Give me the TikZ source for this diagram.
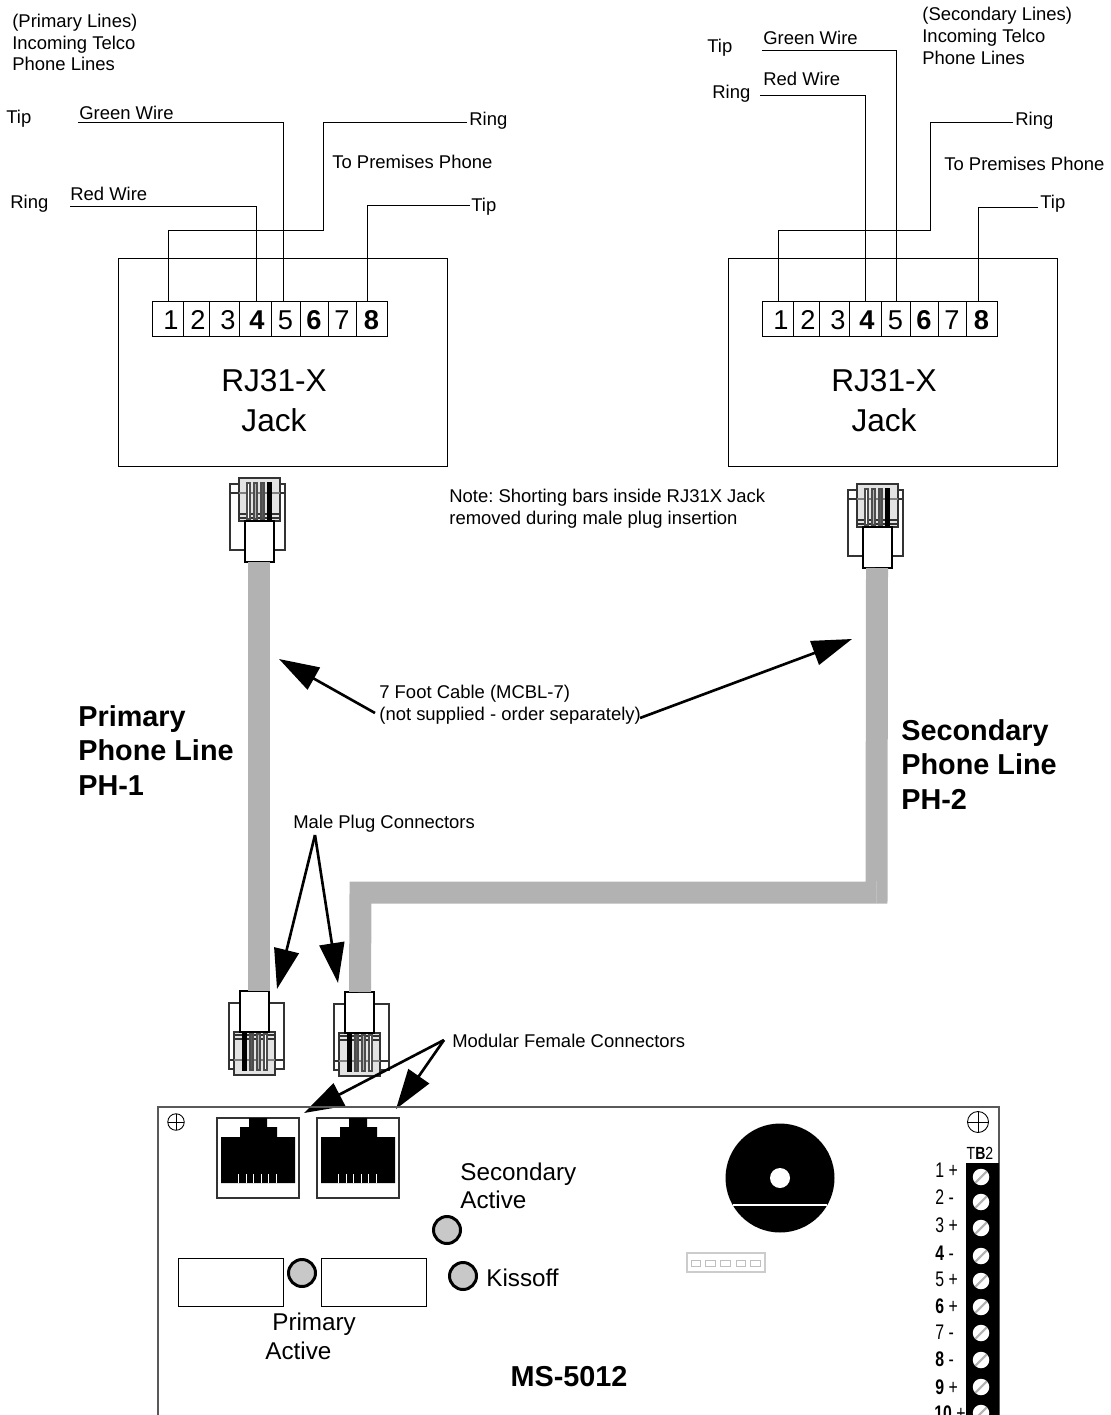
\documentclass[tikz,border=0pt]{standalone}
\usepackage{fontspec}
\setmainfont{Liberation Sans}
\usetikzlibrary{arrows.meta}
\definecolor{cablegray}{HTML}{B2B2B2}
\definecolor{ledgray}{HTML}{C8C8C8}
\definecolor{headgray}{HTML}{E3E3E3}
\newcommand{\smallfont}{\fontsize{10.5}{12.3}\selectfont}
\newcommand{\boardfont}{\fontsize{13.8}{15.6}\selectfont}
\newcommand{\boldfont}{\fontsize{16.4}{19.6}\selectfont\bfseries}
\tikzset{
  lbl/.style={anchor=west,inner sep=0pt,font=\smallfont,text height=9.9pt,text depth=2.2pt},
  multilbl/.style={anchor=west,inner sep=0pt,font=\smallfont,align=left},
  boardlbl/.style={anchor=west,inner sep=0pt,font=\boardfont,align=left},
  biglbl/.style={anchor=west,inner sep=0pt,font=\boldfont,align=left},
  wire/.style={draw=black,line width=.5pt},
  cable/.style={draw=cablegray,line width=.44cm,line join=miter},
  bigarrow/.style={draw=black,line width=1.5pt,-{Triangle[length=.8cm,width=.5cm]}},
  cell/.style={shape=rectangle,draw,line width=.5pt,minimum height=.7cm,inner sep=0pt,text height=12.1pt,text depth=0pt,font=\fontsize{15.5}{15.5}\selectfont},
  jackbox/.style={shape=rectangle,draw,line width=.5pt,minimum width=6.58cm,minimum height=4.16cm},
  bigtext/.style={inner sep=0pt,font=\fontsize{18}{22}\selectfont},
  led/.style={shape=circle,draw=black,line width=1.7pt,fill=ledgray,inner sep=0pt,minimum size=.54cm},
  relay/.style={shape=rectangle,draw,line width=.5pt,minimum width=2.1cm,minimum height=.96cm},
  screw/.style={shape=circle,fill=white,inner sep=0pt,minimum size=.33cm,
    path picture={\draw [gray!60,line width=1.2pt] (path picture bounding box.south west) -- (path picture bounding box.north east);}},
  mounthole/.style={shape=circle,draw,line width=.5pt,inner sep=0pt,
    path picture={\draw [line width=.5pt] (path picture bounding box.north) -- (path picture bounding box.south)
      (path picture bounding box.west) -- (path picture bounding box.east);}},
  termlbl/.style={anchor=west,inner sep=0pt,font=\fontsize{12}{12}\selectfont},
  plugline/.style={draw=black!80,line width=.6pt},
  rjplug/.pic={
    \draw [plugline,fill=white] (-29,6) rectangle (26,72);
    \draw [plugline,fill=headgray] (-20,0) rectangle (21,43);
    \draw [plugline] (-29,15) -- (-20,15) (21,15) -- (26,15);
    \draw [draw=gray,line width=.6pt] (-20,15) -- (21,15);
    \draw [plugline] (-20,36) -- (21,36) (-20,40) -- (21,40);
    \draw [draw=black!70,line width=.6pt,fill=white] (-12,5) rectangle (-9,41);
    \draw [draw=black!70,line width=.6pt,fill=gray!60] (-5,5) rectangle (-2,41);
    \draw [draw=black!70,line width=.6pt,fill=gray!70!black] (2,5) rectangle (5,41);
    \draw [draw=black,line width=.6pt,fill=black] (9,5) rectangle (12,41);
    \draw [draw=black,line width=.7pt,fill=white] (-14,43) rectangle (15,84);
    \coordinate (-neck) at (0,84);
  },
  rjsocket/.pic={
    \draw [plugline,fill=white] (0,0) rectangle (82,80);
    \fill [black] (4,65) -- (4,19) -- (23,19) -- (23,9) -- (32,9) -- (32,0) -- (50,0) -- (50,9) -- (60,9) -- (60,19) -- (78,19) -- (78,65) -- cycle;
    \draw [white,line width=.5pt] (21,56) -- (21,65) (29,56) -- (29,65) (36,56) -- (36,65) (44,56) -- (44,65) (51,56) -- (51,65) (59,56) -- (59,65);
  }
}
\begin{document}
\frenchspacing
\begin{tikzpicture}[x=.02cm,y=-.02cm]
\useasboundingbox (0,0) rectangle (1110,1415);
\clip (0,0) rectangle (1110,1415);

% left jack
\path (282.5,362) node (jackpri) [jackbox] {};
\path (274,381) node (rjpri) [bigtext] {RJ31-X};
\path (274,420) node (jkpri) [bigtext] {Jack};
\path (168,318.5) node (pa1) [cell,minimum width=.61cm] {\kern3.4pt 1};
\path (196,318.5) node (pa2) [cell,minimum width=.52cm] {\kern2.3pt 2};
\path (224,318.5) node (pa3) [cell,minimum width=.6cm] {\kern4.5pt 3};
\path (255,318.5) node (pa4) [cell,minimum width=.64cm] {\kern2.3pt\textbf{4}};
\path (285.5,318.5) node (pa5) [cell,minimum width=.58cm] {5};
\path (314,318.5) node (pa6) [cell,minimum width=.56cm] {\textbf{6}};
\path (342,318.5) node (pa7) [cell,minimum width=.56cm] {7};
\path (371.5,318.5) node (pa8) [cell,minimum width=.62cm] {\textbf{8}};

% right jack
\path (892.5,362) node (jacksec) [jackbox] {};
\path (884,381) node (rjsec) [bigtext] {RJ31-X};
\path (884,420) node (jksec) [bigtext] {Jack};
\path (778,318.5) node (sa1) [cell,minimum width=.61cm] {\kern3.4pt 1};
\path (806,318.5) node (sa2) [cell,minimum width=.52cm] {\kern2.3pt 2};
\path (834,318.5) node (sa3) [cell,minimum width=.6cm] {\kern4.5pt 3};
\path (865,318.5) node (sa4) [cell,minimum width=.64cm] {\kern2.3pt\textbf{4}};
\path (895.5,318.5) node (sa5) [cell,minimum width=.58cm] {5};
\path (924,318.5) node (sa6) [cell,minimum width=.56cm] {\textbf{6}};
\path (952,318.5) node (sa7) [cell,minimum width=.56cm] {7};
\path (981.5,318.5) node (sa8) [cell,minimum width=.62cm] {\textbf{8}};

% labels
\path (12,42.5) node (lineL) [multilbl] {(Primary Lines)\\Incoming Telco\\Phone Lines};
\path (922,36) node (lineR) [multilbl] {(Secondary Lines)\\Incoming Telco\\Phone Lines};
\path (6,117) node (tipL) [lbl] {Tip};
\path (79,113) node (greenL) [lbl] {Green Wire};
\path (10,202) node (ringL) [lbl] {Ring};
\path (70,194) node (redL) [lbl] {Red Wire};
\path (469,119) node (ringoutL) [lbl] {Ring};
\path (332,162) node (premL) [lbl] {To Premises Phone};
\path (471,205) node (tipoutL) [lbl] {Tip};
\path (707,46) node (tipR) [lbl] {Tip};
\path (763,38) node (greenR) [lbl] {Green Wire};
\path (712,92) node (ringR) [lbl] {Ring};
\path (763,79) node (redR) [lbl] {Red Wire};
\path (1015,119) node (ringoutR) [lbl] {Ring};
\path (944,164) node (premR) [lbl] {To Premises Phone};
\path (1040,202) node (tipoutR) [lbl] {Tip};
\path (449,509) node (note) [multilbl] {Note: Shorting bars inside RJ31X Jack\\removed during male plug insertion};
\path (379,705) node (cablenote) [multilbl] {7 Foot Cable (MCBL-7)\\(not supplied - order separately)};
\path (293,822) node (malenote) [lbl] {Male Plug Connectors};
\path (452,1041) node (femalenote) [lbl] {Modular Female Connectors};
\path (78,750.5) node (priname) [biglbl] {Primary\\Phone Line\\PH-1};
\path (901,764.5) node (secname) [biglbl] {Secondary\\Phone Line\\PH-2};

% wires
\coordinate (gl1) at (78,122);
\coordinate (gl2) at (283,122);
\coordinate (rl1) at (70,206);
\coordinate (rl2) at (256,206);
\coordinate (ol1) at (323,122);
\coordinate (ol2) at (323,230);
\coordinate (tl1) at (367,205);
\coordinate (ringendL) at (467,122);
\coordinate (tipendL) at (470,205);
\draw [wire] (gl1) -- (gl2) -- (gl2 |- pa5.north);
\draw [wire] (rl1) -- (rl2) -- (rl2 |- pa4.north);
\draw [wire] (ringendL) -- (ol1) -- (ol2) -- (ol2 -| pa1.north) -- (pa1.north);
\draw [wire] (tipendL) -- (tl1) -- (tl1 |- pa8.north);
\coordinate (gr1) at (762,50);
\coordinate (gr2) at (896,50);
\coordinate (rr1) at (760,95);
\coordinate (rr2) at (865,95);
\coordinate (or1) at (930,122);
\coordinate (or2) at (930,230);
\coordinate (tr1) at (978,207);
\coordinate (ringendR) at (1013,122);
\coordinate (tipendR) at (1038,207);
\draw [wire] (gr1) -- (gr2) -- (gr2 |- sa5.north);
\draw [wire] (rr1) -- (rr2) -- (rr2 |- sa4.north);
\draw [wire] (ringendR) -- (or1) -- (or2) -- (or2 -| sa1.north) -- (sa1.north);
\draw [wire] (tipendR) -- (tr1) -- (tr1 |- sa8.north);

% plugs and cables
\path (259,478) pic (ph1top) {rjplug};
\path (877,484) pic (ph2top) {rjplug};
\path (255,1075) pic [rotate=180] (ph1bot) {rjplug};
\path (360,1076) pic [rotate=180] (ph2bot) {rjplug};
\coordinate (bendA) at (876.5,892.5);
\coordinate (bendB) at (360.5,892.5);
\draw [cable] (ph1top-neck) -- (ph1top-neck |- ph1bot-neck);
\draw [cable] (ph2top-neck) -- (bendA) -- (bendB) -- (ph2bot-neck);
\draw [draw=gray!50,line width=.5pt] (876,881) -- (876,903);

% arrows
\coordinate (a1) at (375,713);
\coordinate (a1t) at (279,659);
\coordinate (a2) at (640,718);
\coordinate (a2t) at (852,639);
\coordinate (a3) at (315,835);
\coordinate (a3t) at (277,989);
\coordinate (a4t) at (338,983);
\coordinate (a5) at (444,1040);
\coordinate (a5t) at (304,1113);
\coordinate (a6t) at (396,1109);
\draw [bigarrow] (a1) -- (a1t);
\draw [bigarrow] (a2) -- (a2t);
\draw [bigarrow] (a3) -- (a3t);
\draw [bigarrow] (a3) -- (a4t);
\draw [bigarrow] (a5) -- (a5t);
\draw [bigarrow] (a5) -- (a6t);

% board
\draw [draw=black!65,line width=.7pt] (158,1107) rectangle (999,1440);
\path (176,1122) node (holeL) [mounthole,minimum size=.33cm] {};
\path (978,1122) node (holeR) [mounthole,minimum size=.42cm] {};
\path (217,1118) pic (sockA) {rjsocket};
\path (317,1118) pic (sockB) {rjsocket};
\path (230.5,1282) node (relayA) [relay] {};
\path (373.5,1282) node (relayB) [relay] {};
\path (302,1273) node (ledpri) [led] {};
\path (447,1230) node (ledsec) [led] {};
\path (463,1276) node (ledkiss) [led] {};
\path (460,1186) node (seclbl) [boardlbl] {Secondary\\Active};
\path (486,1278) node (kisslbl) [boardlbl] {Kissoff};
\path (272,1324) node (prilbl) [boardlbl] {Primary};
\path (265,1351) node (actlbl) [boardlbl] {Active};
\path (569,1377) node (model) [inner sep=0pt,font=\boldfont] {MS-5012};

% sounder
\path (780,1178) node (sounder) [shape=circle,fill=black,inner sep=0pt,minimum size=2.18cm] {};
\path (780,1178) node (sounderhole) [shape=circle,fill=white,inner sep=0pt,minimum size=.4cm] {};
\draw [white,line width=.6pt] (733,1205) -- (827,1205);

% header
\draw [draw=gray!40,line width=.6pt] (687,1253) rectangle (765,1272);
\foreach \hx in {691,705.5,720.5,736,750.5}
  \draw [draw=gray!50,line width=.5pt] (\hx,1260) rectangle +(9.5,6);

% terminal block
\path (980,1153) node (tbname) [inner sep=0pt,font=\fontsize{10}{10}\selectfont] {\scalebox{.8}[1]{T\textbf{B}2}};
\fill [black] (965.5,1163) rectangle (999,1440);
\path (981,1177) node (sc1) [screw] {}; \path (935,1170) node (tm1) [termlbl] {\scalebox{.75}[1]{1 +}};
\path (981,1202) node (sc2) [screw] {}; \path (935,1197) node (tm2) [termlbl] {\scalebox{.75}[1]{2 -}};
\path (981,1228) node (sc3) [screw] {}; \path (935,1225) node (tm3) [termlbl] {\scalebox{.75}[1]{3 +}};
\path (981,1256) node (sc4) [screw] {}; \path (935,1253) node (tm4) [termlbl] {\scalebox{.75}[1]{\textbf{4} -}};
\path (981,1281) node (sc5) [screw] {}; \path (935,1279) node (tm5) [termlbl] {\scalebox{.75}[1]{5 +}};
\path (981,1307) node (sc6) [screw] {}; \path (935,1306) node (tm6) [termlbl] {\scalebox{.75}[1]{\textbf{6} +}};
\path (981,1333) node (sc7) [screw] {}; \path (935,1332) node (tm7) [termlbl] {\scalebox{.75}[1]{7 -}};
\path (981,1360) node (sc8) [screw] {}; \path (935,1359) node (tm8) [termlbl] {\scalebox{.75}[1]{\textbf{8} -}};
\path (981,1387) node (sc9) [screw] {}; \path (935,1387) node (tm9) [termlbl] {\scalebox{.75}[1]{\textbf{9} +}};
\path (981,1413) node (sc10) [screw] {}; \path (934,1413) node (tm10) [termlbl] {\scalebox{.75}[1]{\textbf{10} +}};
\end{tikzpicture}
\end{document}
